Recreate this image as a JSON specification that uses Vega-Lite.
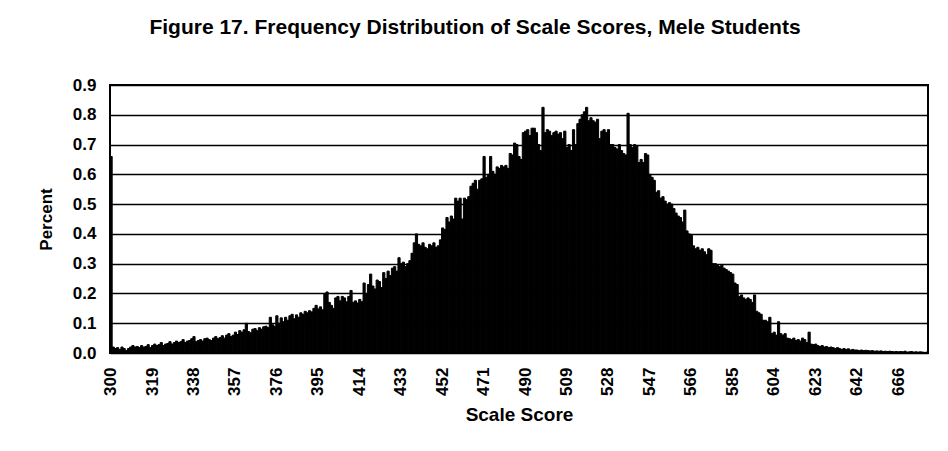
{
  "$schema": "https://vega.github.io/schema/vega-lite/v6.json",
  "width": 818,
  "height": 268,
  "autosize": "none",
  "padding": {"left": 110, "top": 85, "right": 20, "bottom": 98},
  "background": "white",
  "title": {
    "text": "Figure 17. Frequency Distribution of Scale Scores, Mele Students",
    "font": "Liberation Sans",
    "fontSize": 21,
    "fontWeight": "bold",
    "color": "black",
    "anchor": "middle",
    "dx": -44,
    "offset": 38
  },
  "config": {
    "view": {"stroke": "black", "strokeWidth": 2},
    "axis": {
      "labelFont": "Liberation Sans",
      "labelFontWeight": "bold",
      "labelColor": "black",
      "titleFont": "Liberation Sans",
      "titleFontWeight": "bold",
      "titleColor": "black"
    }
  },
  "data": {
    "values": [
      {"s":300,"p":0.66},{"s":301,"p":0.02},{"s":302,"p":0.015},{"s":303,"p":0.018},{"s":304,"p":0.012},{"s":305,"p":0.02},{"s":306,"p":0.015},{"s":307,"p":0.008},{"s":308,"p":0.015},{"s":309,"p":0.02},
      {"s":310,"p":0.025},{"s":311,"p":0.02},{"s":312,"p":0.022},{"s":313,"p":0.018},{"s":314,"p":0.025},{"s":315,"p":0.02},{"s":316,"p":0.022},{"s":317,"p":0.028},{"s":318,"p":0.018},{"s":319,"p":0.025},
      {"s":320,"p":0.03},{"s":321,"p":0.025},{"s":322,"p":0.028},{"s":323,"p":0.035},{"s":324,"p":0.025},{"s":325,"p":0.03},{"s":326,"p":0.032},{"s":327,"p":0.038},{"s":328,"p":0.03},{"s":329,"p":0.035},
      {"s":330,"p":0.04},{"s":331,"p":0.035},{"s":332,"p":0.038},{"s":333,"p":0.045},{"s":334,"p":0.035},{"s":335,"p":0.04},{"s":336,"p":0.042},{"s":337,"p":0.048},{"s":338,"p":0.055},{"s":339,"p":0.038},
      {"s":340,"p":0.042},{"s":341,"p":0.045},{"s":342,"p":0.04},{"s":343,"p":0.048},{"s":344,"p":0.05},{"s":345,"p":0.045},{"s":346,"p":0.042},{"s":347,"p":0.05},{"s":348,"p":0.055},{"s":349,"p":0.048},
      {"s":350,"p":0.052},{"s":351,"p":0.058},{"s":352,"p":0.05},{"s":353,"p":0.06},{"s":354,"p":0.065},{"s":355,"p":0.055},{"s":356,"p":0.06},{"s":357,"p":0.07},{"s":358,"p":0.062},{"s":359,"p":0.075},
      {"s":360,"p":0.07},{"s":361,"p":0.078},{"s":362,"p":0.1},{"s":363,"p":0.072},{"s":364,"p":0.068},{"s":365,"p":0.08},{"s":366,"p":0.082},{"s":367,"p":0.075},{"s":368,"p":0.085},{"s":369,"p":0.08},
      {"s":370,"p":0.088},{"s":371,"p":0.09},{"s":372,"p":0.085},{"s":373,"p":0.12},{"s":374,"p":0.095},{"s":375,"p":0.09},{"s":376,"p":0.125},{"s":377,"p":0.1},{"s":378,"p":0.118},{"s":379,"p":0.105},
      {"s":380,"p":0.12},{"s":381,"p":0.11},{"s":382,"p":0.125},{"s":383,"p":0.13},{"s":384,"p":0.115},{"s":385,"p":0.128},{"s":386,"p":0.12},{"s":387,"p":0.135},{"s":388,"p":0.13},{"s":389,"p":0.14},
      {"s":390,"p":0.135},{"s":391,"p":0.142},{"s":392,"p":0.138},{"s":393,"p":0.15},{"s":394,"p":0.16},{"s":395,"p":0.148},{"s":396,"p":0.155},{"s":397,"p":0.145},{"s":398,"p":0.2},{"s":399,"p":0.205},
      {"s":400,"p":0.17},{"s":401,"p":0.16},{"s":402,"p":0.15},{"s":403,"p":0.185},{"s":404,"p":0.19},{"s":405,"p":0.175},{"s":406,"p":0.19},{"s":407,"p":0.185},{"s":408,"p":0.172},{"s":409,"p":0.19},
      {"s":410,"p":0.21},{"s":411,"p":0.17},{"s":412,"p":0.175},{"s":413,"p":0.168},{"s":414,"p":0.18},{"s":415,"p":0.172},{"s":416,"p":0.235},{"s":417,"p":0.2},{"s":418,"p":0.23},{"s":419,"p":0.265},
      {"s":420,"p":0.225},{"s":421,"p":0.215},{"s":422,"p":0.245},{"s":423,"p":0.24},{"s":424,"p":0.22},{"s":425,"p":0.27},{"s":426,"p":0.25},{"s":427,"p":0.275},{"s":428,"p":0.26},{"s":429,"p":0.285},
      {"s":430,"p":0.29},{"s":431,"p":0.275},{"s":432,"p":0.32},{"s":433,"p":0.3},{"s":434,"p":0.305},{"s":435,"p":0.29},{"s":436,"p":0.3},{"s":437,"p":0.31},{"s":438,"p":0.335},{"s":439,"p":0.37},
      {"s":440,"p":0.4},{"s":441,"p":0.365},{"s":442,"p":0.36},{"s":443,"p":0.37},{"s":444,"p":0.355},{"s":445,"p":0.35},{"s":446,"p":0.365},{"s":447,"p":0.36},{"s":448,"p":0.37},{"s":449,"p":0.355},
      {"s":450,"p":0.36},{"s":451,"p":0.38},{"s":452,"p":0.42},{"s":453,"p":0.415},{"s":454,"p":0.455},{"s":455,"p":0.44},{"s":456,"p":0.46},{"s":457,"p":0.45},{"s":458,"p":0.52},{"s":459,"p":0.51},
      {"s":460,"p":0.52},{"s":461,"p":0.45},{"s":462,"p":0.52},{"s":463,"p":0.515},{"s":464,"p":0.525},{"s":465,"p":0.56},{"s":466,"p":0.57},{"s":467,"p":0.58},{"s":468,"p":0.55},{"s":469,"p":0.58},
      {"s":470,"p":0.585},{"s":471,"p":0.66},{"s":472,"p":0.59},{"s":473,"p":0.6},{"s":474,"p":0.66},{"s":475,"p":0.61},{"s":476,"p":0.6},{"s":477,"p":0.625},{"s":478,"p":0.62},{"s":479,"p":0.63},
      {"s":480,"p":0.625},{"s":481,"p":0.63},{"s":482,"p":0.62},{"s":483,"p":0.67},{"s":484,"p":0.665},{"s":485,"p":0.705},{"s":486,"p":0.7},{"s":487,"p":0.66},{"s":488,"p":0.65},{"s":489,"p":0.74},
      {"s":490,"p":0.745},{"s":491,"p":0.75},{"s":492,"p":0.73},{"s":493,"p":0.755},{"s":494,"p":0.755},{"s":495,"p":0.74},{"s":496,"p":0.7},{"s":497,"p":0.68},{"s":498,"p":0.825},{"s":499,"p":0.74},
      {"s":500,"p":0.75},{"s":501,"p":0.745},{"s":502,"p":0.73},{"s":503,"p":0.74},{"s":504,"p":0.745},{"s":505,"p":0.735},{"s":506,"p":0.74},{"s":507,"p":0.72},{"s":508,"p":0.745},{"s":509,"p":0.69},
      {"s":510,"p":0.7},{"s":511,"p":0.68},{"s":512,"p":0.75},{"s":513,"p":0.7},{"s":514,"p":0.77},{"s":515,"p":0.785},{"s":516,"p":0.8},{"s":517,"p":0.81},{"s":518,"p":0.825},{"s":519,"p":0.78},
      {"s":520,"p":0.79},{"s":521,"p":0.78},{"s":522,"p":0.775},{"s":523,"p":0.785},{"s":524,"p":0.72},{"s":525,"p":0.745},{"s":526,"p":0.75},{"s":527,"p":0.74},{"s":528,"p":0.75},{"s":529,"p":0.7},
      {"s":530,"p":0.7},{"s":531,"p":0.69},{"s":532,"p":0.685},{"s":533,"p":0.7},{"s":534,"p":0.68},{"s":535,"p":0.67},{"s":536,"p":0.665},{"s":537,"p":0.805},{"s":538,"p":0.7},{"s":539,"p":0.69},
      {"s":540,"p":0.7},{"s":541,"p":0.695},{"s":542,"p":0.64},{"s":543,"p":0.65},{"s":544,"p":0.64},{"s":545,"p":0.67},{"s":546,"p":0.665},{"s":547,"p":0.6},{"s":548,"p":0.59},{"s":549,"p":0.58},
      {"s":550,"p":0.54},{"s":551,"p":0.545},{"s":552,"p":0.52},{"s":553,"p":0.525},{"s":554,"p":0.51},{"s":555,"p":0.5},{"s":556,"p":0.505},{"s":557,"p":0.5},{"s":558,"p":0.485},{"s":559,"p":0.47},
      {"s":560,"p":0.46},{"s":561,"p":0.455},{"s":562,"p":0.44},{"s":563,"p":0.48},{"s":564,"p":0.41},{"s":565,"p":0.4},{"s":566,"p":0.395},{"s":567,"p":0.36},{"s":568,"p":0.35},{"s":569,"p":0.355},
      {"s":570,"p":0.345},{"s":571,"p":0.35},{"s":572,"p":0.34},{"s":573,"p":0.33},{"s":574,"p":0.35},{"s":575,"p":0.345},{"s":576,"p":0.3},{"s":577,"p":0.3},{"s":578,"p":0.295},{"s":579,"p":0.29},
      {"s":580,"p":0.295},{"s":581,"p":0.285},{"s":582,"p":0.28},{"s":583,"p":0.275},{"s":584,"p":0.27},{"s":585,"p":0.265},{"s":586,"p":0.235},{"s":587,"p":0.23},{"s":588,"p":0.19},{"s":589,"p":0.195},
      {"s":590,"p":0.185},{"s":591,"p":0.18},{"s":592,"p":0.185},{"s":593,"p":0.18},{"s":594,"p":0.17},{"s":595,"p":0.195},{"s":596,"p":0.14},{"s":597,"p":0.135},{"s":598,"p":0.13},{"s":599,"p":0.11},
      {"s":600,"p":0.11},{"s":601,"p":0.105},{"s":602,"p":0.12},{"s":603,"p":0.065},{"s":604,"p":0.07},{"s":605,"p":0.06},{"s":606,"p":0.105},{"s":607,"p":0.065},{"s":608,"p":0.06},{"s":609,"p":0.065},
      {"s":610,"p":0.05},{"s":611,"p":0.048},{"s":612,"p":0.045},{"s":613,"p":0.05},{"s":614,"p":0.042},{"s":615,"p":0.045},{"s":616,"p":0.04},{"s":617,"p":0.05},{"s":618,"p":0.045},{"s":619,"p":0.035},
      {"s":620,"p":0.07},{"s":621,"p":0.03},{"s":622,"p":0.028},{"s":623,"p":0.03},{"s":624,"p":0.025},{"s":625,"p":0.022},{"s":626,"p":0.025},{"s":627,"p":0.02},{"s":628,"p":0.022},{"s":629,"p":0.018},
      {"s":630,"p":0.02},{"s":631,"p":0.018},{"s":632,"p":0.015},{"s":633,"p":0.018},{"s":634,"p":0.015},{"s":635,"p":0.012},{"s":636,"p":0.015},{"s":637,"p":0.012},{"s":638,"p":0.014},{"s":639,"p":0.01},
      {"s":640,"p":0.012},{"s":641,"p":0.01},{"s":642,"p":0.01},{"s":643,"p":0.008},{"s":644,"p":0.01},{"s":645,"p":0.008},{"s":646,"p":0.009},{"s":647,"p":0.008},{"s":648,"p":0.007},
      {"s":650,"p":0.008},{"s":651,"p":0.006},{"s":652,"p":0.007},
      {"s":654,"p":0.006},{"s":655,"p":0.007},{"s":656,"p":0.005},{"s":657,"p":0.006},
      {"s":659,"p":0.005},{"s":660,"p":0.006},
      {"s":662,"p":0.005},{"s":663,"p":0.004},
      {"s":665,"p":0.005},{"s":666,"p":0.004},{"s":667,"p":0.005},{"s":668,"p":0.004},{"s":669,"p":0.006},{"s":670,"p":0.003},{"s":671,"p":0.004},{"s":672,"p":0.005},{"s":673,"p":0.003},{"s":674,"p":0.004},
      {"s":676,"p":0.003},{"s":677,"p":0.004},{"s":678,"p":0.003},{"s":679,"p":0.002},{"s":680,"p":0.003}
    ]
  },
  "mark": {"type": "bar", "color": "black", "stroke": "black", "strokeWidth": 1},
  "encoding": {
    "x": {
      "field": "s",
      "type": "ordinal",
      "scale": {"paddingInner": 0, "paddingOuter": 0},
      "axis": {
        "title": "Scale Score",
        "titleFontSize": 19,
        "titlePadding": 10,
        "values": [300,319,338,357,376,395,414,433,452,471,490,509,528,547,566,585,604,623,642,666],
        "labelAngle": -90,
        "labelFontSize": 17,
        "labelPadding": 14,
        "ticks": false,
        "domain": false,
        "grid": false
      }
    },
    "y": {
      "field": "p",
      "type": "quantitative",
      "scale": {"domain": [0, 0.9], "nice": false},
      "axis": {
        "title": "Percent",
        "titleFontSize": 17,
        "titlePadding": 17,
        "values": [0, 0.1, 0.2, 0.3, 0.4, 0.5, 0.6, 0.7, 0.8, 0.9],
        "format": ".1f",
        "labelFontSize": 17,
        "labelPadding": 14,
        "ticks": false,
        "domain": false,
        "grid": true,
        "gridColor": "black",
        "gridWidth": 1.5,
        "gridOpacity": 1
      }
    }
  }
}
